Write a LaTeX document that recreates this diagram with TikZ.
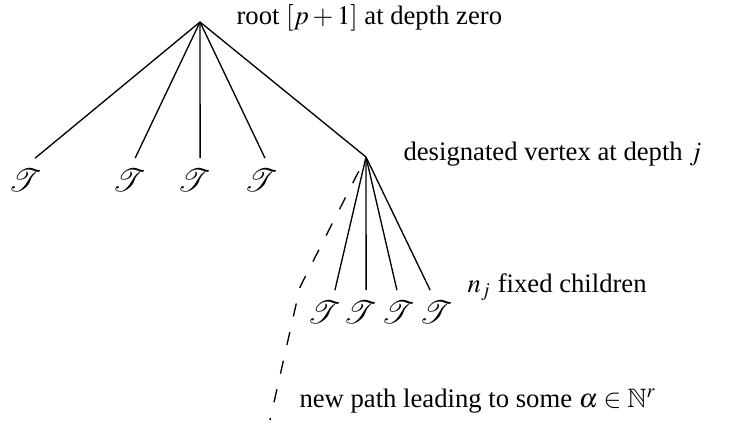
\documentclass[tikz,border=0pt]{standalone}
\usepackage{mathptmx}
\usepackage{amssymb}
\usepackage{mathrsfs}
\usepackage{fontspec}
\setmainfont{Liberation Serif}
\newcommand{\subtr}[0]{\mathscr{T}}

\begin{document}
\begin{tikzpicture}[x=0.375pt, y=-0.375pt, line width=0.5pt,
	leaf/.style={inner sep=0pt, outer sep=0pt, font=\large},
	newpath/.style={dash pattern=on 5pt off 6pt, dash phase=5pt}]
\useasboundingbox (0,0) rectangle (731,434);

% root and designated vertex
\coordinate (root) at (200,22);
\coordinate (dv) at (366,157);
\draw (root) -- (dv);

% first level subtrees
\node[leaf] (t1) at (25,180) {$\subtr$};
\node[leaf] (t2) at (129,180) {$\subtr$};
\node[leaf] (t3) at (194,180) {$\subtr$};
\node[leaf] (t4) at (261,180) {$\subtr$};
\draw (root) -- ([xshift=3.8pt,yshift=4pt]t1.north);
\draw (root) -- ([xshift=2.3pt,yshift=4pt]t2.north);
\draw (root) -- ([xshift=2.3pt,yshift=4pt]t3.north);
\draw (root) -- ([xshift=1.5pt,yshift=4pt]t4.north);

% fixed children of the designated vertex
\node[leaf] (c1) at (324,312) {$\subtr$};
\node[leaf] (c2) at (360,312) {$\subtr$};
\node[leaf] (c3) at (398,312) {$\subtr$};
\node[leaf] (c4) at (436,312) {$\subtr$};
\draw (dv) -- ([xshift=4.1pt,yshift=4pt]c1.north);
\draw (dv) -- ([xshift=2.3pt,yshift=4pt]c2.north);
\draw (dv) -- ([xshift=-0.4pt,yshift=4pt]c3.north);
\draw (dv) -- ([xshift=-2.2pt,yshift=4pt]c4.north);

% new path
\coordinate (bend) at (300,287);
\coordinate (alpha) at (270,420);
\draw[newpath] (dv) -- (bend) -- (alpha);

% labels
\node[anchor=base west] (rootlab) at (227,25) {root $[p+1]$ at depth zero};
\node[anchor=base west] (dvlab) at (394,161) {designated vertex at depth $j$};
\node[anchor=base west] (nlab) at (458,293) {$n_j$ fixed children};
\node[anchor=base west] (pathlab) at (290,407) {new path leading to some $\alpha\in\mathbb{N}^r$};

\end{tikzpicture}
\end{document}
